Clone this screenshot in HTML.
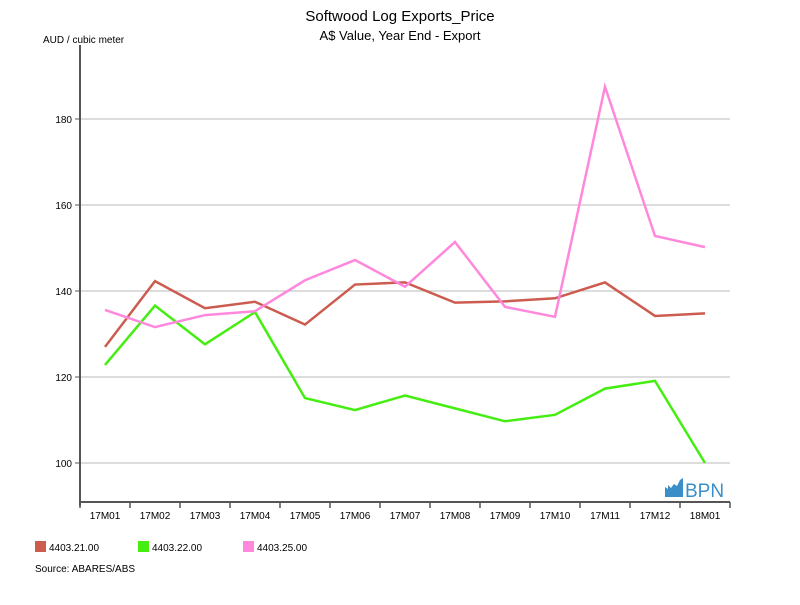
<!DOCTYPE html>
<html><head><meta charset="utf-8"><style>
body{margin:0;background:#fff;font-family:"Liberation Sans",Arial,sans-serif}
svg text{font-family:"Liberation Sans",Arial,sans-serif}
</style></head><body>
<svg id="c" width="800" height="600">
<text x="400" y="21" text-anchor="middle" font-size="15">Softwood Log Exports_Price</text>
<text x="400" y="40" text-anchor="middle" font-size="13">A$ Value, Year End - Export</text>
<text x="43" y="43" font-size="10">AUD / cubic meter</text>
<g id="grid"></g><g id="axes"></g><g id="lines"></g>
<g>
<path d="M665 497 L665 487 L668 489 L668 485 L671 488 L674 484 L677 486 L680 480 L683 478 L683 497 Z" fill="#3a8fc9"/>
<text x="685" y="497" font-size="19" fill="#3a8fc9">BPN</text>
</g>
<g id="legend"></g>
<text x="35" y="572" font-size="10">Source: ABARES/ABS</text>
</svg>
<script>
const categories=["17M01","17M02","17M03","17M04","17M05","17M06","17M07","17M08","17M09","17M10","17M11","17M12","18M01"];
const seriesNames=["4403.21.00","4403.22.00","4403.25.00"];
const seriesColors=["#cd5c50","#44ee11","#ff88dd"];
const s1=[127,142.3,136,137.5,132.2,141.5,142,137.3,137.6,138.3,142,134.2,134.8];
const s2=[122.8,136.6,127.6,135.1,115.1,112.3,115.7,112.7,109.7,111.2,117.3,119.1,100];
const s3=[135.6,131.6,134.4,135.3,142.5,147.2,141,151.4,136.3,134,187.5,152.8,150.2];
const yTicks=[100,120,140,160,180];
const NS="http://www.w3.org/2000/svg";
const X0=80,X1=730,Y0=502,Ytop=45;
const bw=(X1-X0)/categories.length;
const x=i=>X0+bw*(i+0.5);
const y=v=>463-(v-100)*4.3;
function mk(t,a,p){const e=document.createElementNS(NS,t);for(const k in a)e.setAttribute(k,a[k]);p.appendChild(e);return e;}
const grid=document.getElementById('grid'),axes=document.getElementById('axes'),lines=document.getElementById('lines'),legend=document.getElementById('legend');
yTicks.forEach(v=>{
 const g=mk('line',{x1:X0,x2:X1,y1:y(v),y2:y(v),stroke:'#bbb','stroke-width':1},grid);
 
 
 mk('line',{x1:X0-5,x2:X0,y1:y(v),y2:y(v),stroke:'#555'},axes);
 const t=mk('text',{x:X0-8,y:y(v)+4,'text-anchor':'end','font-size':10},axes);t.textContent=v;
 
 
});
const ya=mk('line',{x1:X0,x2:X0,y1:Ytop,y2:Y0+4,stroke:'#555','stroke-width':2},axes);


const xa=mk('line',{x1:X0,x2:X1,y1:Y0,y2:Y0,stroke:'#555','stroke-width':2},axes);


for(let i=0;i<=categories.length;i++)mk('line',{x1:X0+bw*i,x2:X0+bw*i,y1:Y0,y2:Y0+6,stroke:'#555','stroke-width':1.5},axes);
categories.forEach((c,i)=>{const t=mk('text',{x:x(i),y:Y0+17,'text-anchor':'middle','font-size':10},axes);t.textContent=c;
 
 });
[s1,s2,s3].forEach((s,k)=>{
 const p=mk('polyline',{points:s.map((v,i)=>x(i)+','+y(v)).join(' '),fill:'none',stroke:seriesColors[k],'stroke-width':2.5},lines);
 
 
 const lx=[35,138,243][k];
 const r=mk('rect',{x:lx,y:541,width:11,height:11,fill:seriesColors[k]},legend);
 
 
 const t=mk('text',{x:lx+14,y:551,'font-size':10},legend);t.textContent=seriesNames[k];
 
 
});
</script>
</body></html>
